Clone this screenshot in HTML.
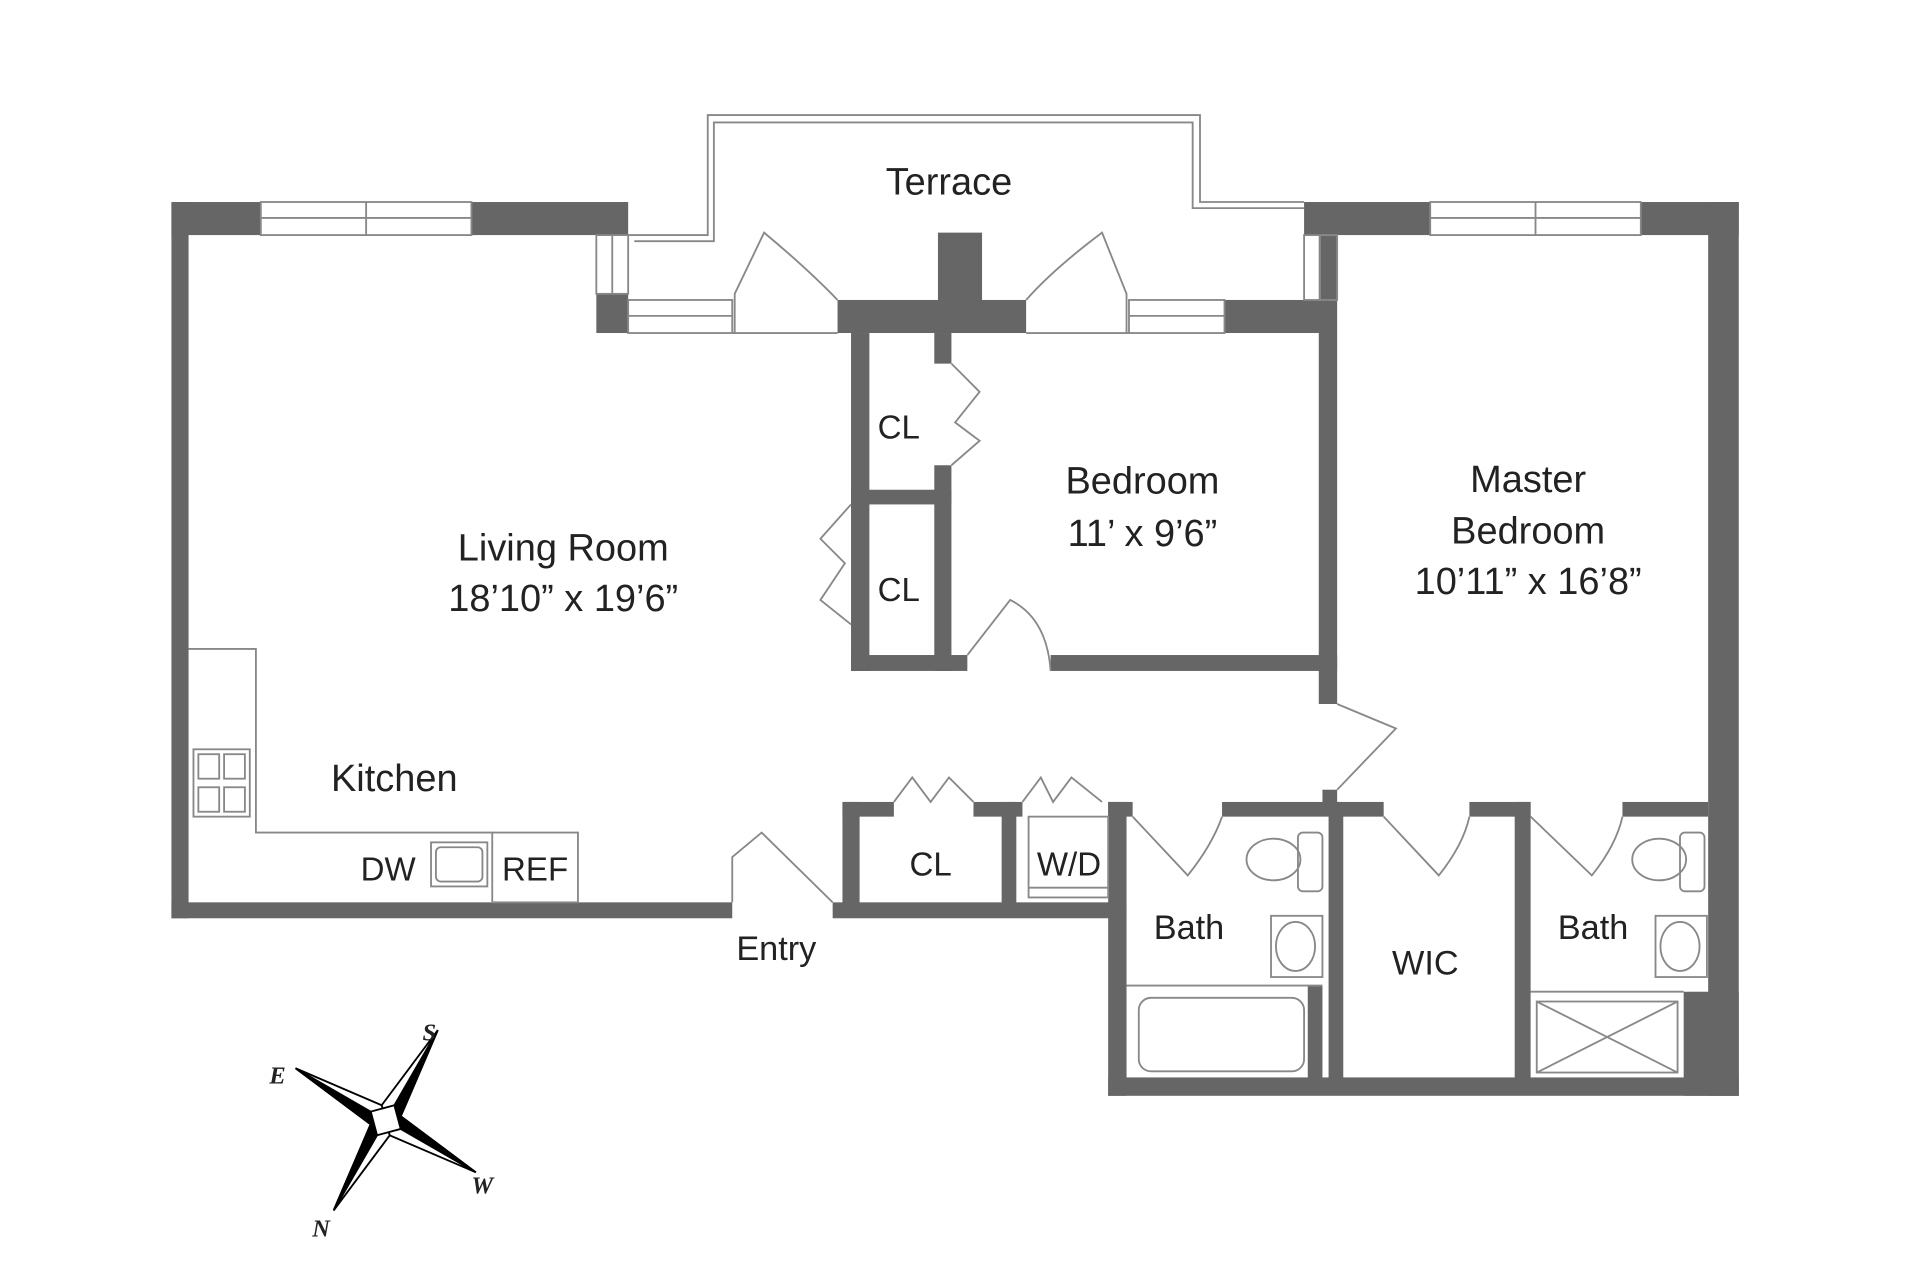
<!DOCTYPE html>
<html><head><meta charset="utf-8"><style>
html,body{margin:0;padding:0;background:#fff;}
svg{display:block;}
text{font-family:"Liberation Sans",Arial,sans-serif;fill:#222;}
</style></head><body>
<svg width="1920" height="1277" viewBox="0 0 1568 1043" preserveAspectRatio="none" xmlns="http://www.w3.org/2000/svg">
<g fill="#666">
<rect x="140" y="165" width="73" height="27"/>
<rect x="385" y="165" width="128" height="27"/>
<rect x="140" y="165" width="14" height="585"/>
<rect x="487" y="240" width="26" height="32"/>
<rect x="684" y="245" width="154" height="27"/>
<rect x="766" y="190" width="36" height="60"/>
<rect x="1000" y="245" width="90" height="27"/>
<rect x="1065" y="165" width="103" height="27"/>
<rect x="1340" y="165" width="80" height="27"/>
<rect x="1395" y="165" width="25" height="730"/>
<rect x="1375" y="810" width="45" height="85"/>
<rect x="695" y="272" width="15" height="276"/>
<rect x="763" y="272" width="14" height="25"/>
<rect x="763" y="380" width="14" height="168"/>
<rect x="695" y="400" width="82" height="12"/>
<rect x="695" y="535" width="95" height="13"/>
<rect x="858" y="535" width="234" height="13"/>
<rect x="1077" y="192" width="15" height="383"/>
<rect x="140" y="737" width="458" height="13"/>
<rect x="680" y="737" width="240" height="13"/>
<rect x="688" y="655" width="14" height="90"/>
<rect x="688" y="655" width="42" height="12"/>
<rect x="795" y="655" width="40" height="12"/>
<rect x="818" y="655" width="12" height="85"/>
<rect x="905" y="655" width="20" height="12"/>
<rect x="905" y="655" width="15" height="240"/>
<rect x="905" y="880" width="515" height="15"/>
<rect x="998" y="655" width="132" height="12"/>
<rect x="1080" y="645" width="12" height="20"/>
<rect x="1085" y="655" width="12" height="230"/>
<rect x="1200" y="655" width="50" height="12"/>
<rect x="1237" y="655" width="13" height="230"/>
<rect x="1325" y="655" width="70" height="12"/>
<rect x="1068" y="805" width="12" height="80"/>
</g>
<g fill="none" stroke="#888" stroke-width="1.5">
<path d="M513 192 H578 V94 H980 V165 H1065"/>
<path d="M518 197 H583 V100 H974 V170 H1065"/>
<rect x="213" y="165" width="172" height="27"/><line x1="213" y1="178" x2="385" y2="178"/><line x1="299" y1="165" x2="299" y2="192"/>
<rect x="1168" y="165" width="172" height="27"/><line x1="1168" y1="178" x2="1340" y2="178"/><line x1="1254" y1="165" x2="1254" y2="192"/>
<rect x="487" y="192" width="26" height="48"/><line x1="500" y1="192" x2="500" y2="240"/>
<rect x="1065" y="192" width="27" height="53"/><line x1="1078" y1="192" x2="1078" y2="245"/>
<rect x="513" y="245" width="85" height="27"/><line x1="513" y1="258" x2="598" y2="258"/>
<rect x="922" y="245" width="78" height="27"/><line x1="922" y1="258" x2="1000" y2="258"/>
<line x1="598" y1="272" x2="684" y2="272"/><line x1="838" y1="272" x2="922" y2="272"/>
<path d="M600 272 V240 L624 190 Q660 220 684 245"/>
<path d="M920 272 V240 L900 190 Q860 220 838 245"/>
<path d="M777 297 L800 320 L780 345 L800 360 L777 380"/>
<path d="M695 412 L670 440 L690 460 L670 490 L695 510"/>
<path d="M790 535 L825 490 Q855 505 858 548"/>
<path d="M1092 575 L1140 595 L1092 645"/>
<path d="M730 655 L745 635 L760 655 L775 635 L795 655"/>
<path d="M835 655 L850 635 L860 655 L875 635 L900 655"/>
<path d="M598 737 V700 L622 680 L680 737"/>
<path d="M925 667 L970 715 Q990 690 998 667"/>
<path d="M1130 667 L1175 715 Q1195 690 1200 667"/>
<path d="M1250 667 L1300 715 Q1320 690 1325 667"/>
<path d="M154 530 H209 V680 H402"/>
<rect x="158" y="612" width="46" height="55"/>
<rect x="162" y="616" width="17" height="20"/><rect x="183" y="616" width="17" height="20"/>
<rect x="162" y="643" width="17" height="20"/><rect x="183" y="643" width="17" height="20"/>
<rect x="352" y="688" width="46" height="36"/><rect x="356" y="692" width="38" height="28" rx="4"/>
<rect x="402" y="680" width="70" height="57"/>
<rect x="840" y="667" width="65" height="66"/><line x1="840" y1="725" x2="905" y2="725"/>
<ellipse cx="1040" cy="702" rx="22" ry="17"/><rect x="1060" y="680" width="20" height="48" rx="4"/>
<rect x="1038" y="748" width="42" height="50"/><ellipse cx="1058" cy="773" rx="16" ry="20"/>
<path d="M920 805 H1080"/><rect x="930" y="815" width="135" height="60" rx="10"/>
<ellipse cx="1355" cy="702" rx="22" ry="17"/><rect x="1372" y="680" width="20" height="48" rx="4"/>
<rect x="1352" y="748" width="42" height="50"/><ellipse cx="1372" cy="773" rx="16" ry="20"/>
<path d="M1250 810 H1375"/><rect x="1255" y="818" width="115" height="58"/>
<line x1="1255" y1="818" x2="1370" y2="876"/><line x1="1370" y1="818" x2="1255" y2="876"/>
</g>
<g transform="translate(315,915) rotate(30)" stroke="#000" stroke-width="1.5">
<polygon points="0,-85 9,-9 0,0 -9,-9" fill="#fff"/>
<polygon points="0,-85 9,-9 0,0" fill="#000"/>
<polygon points="0,85 -9,9 0,0 9,9" fill="#fff"/>
<polygon points="0,85 -9,9 0,0" fill="#000"/>
<polygon points="-85,0 -9,9 0,0 -9,-9" fill="#fff"/>
<polygon points="-85,0 -9,9 0,0" fill="#000"/>
<polygon points="85,0 9,-9 0,0 9,9" fill="#fff"/>
<polygon points="85,0 9,-9 0,0" fill="#000"/>
<rect x="-10" y="-10" width="20" height="20" fill="#fff" transform="rotate(45)"/>
</g>
<g font-style="italic" font-weight="bold" font-size="20">
<text x="345" y="850" style="font-family:'Liberation Serif',serif">S</text>
<text x="220" y="885" style="font-family:'Liberation Serif',serif">E</text>
<text x="385" y="975" style="font-family:'Liberation Serif',serif">W</text>
<text x="255" y="1010" style="font-family:'Liberation Serif',serif">N</text>
</g>
<g font-size="31" text-anchor="middle">
<text x="775" y="159">Terrace</text>
<text x="460" y="458">Living Room</text>
<text x="460" y="499">18’10” x 19’6”</text>
<text x="933" y="403">Bedroom</text>
<text x="933" y="446">11’ x 9’6”</text>
<text x="1248" y="402">Master</text>
<text x="1248" y="444">Bedroom</text>
<text x="1248" y="485">10’11” x 16’8”</text>
<text x="322" y="646">Kitchen</text>
<text x="634" y="784" font-size="28">Entry</text>
<text x="971" y="767" font-size="28">Bath</text>
<text x="1301" y="767" font-size="28">Bath</text>
<text x="1164" y="796" font-size="28">WIC</text>
</g>
<g font-size="27" text-anchor="middle">
<text x="734" y="358">CL</text>
<text x="734" y="491">CL</text>
<text x="760" y="715">CL</text>
<text x="873" y="715">W/D</text>
<text x="317" y="719">DW</text>
<text x="437" y="719">REF</text>
</g>
</svg>
</body></html>
